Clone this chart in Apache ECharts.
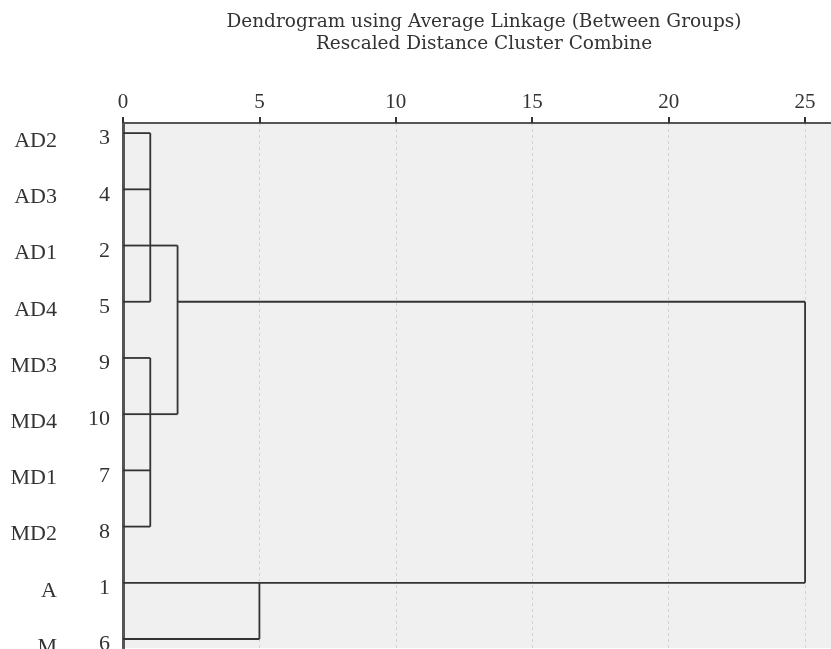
<!DOCTYPE html>
<html>
<head>
<meta charset="utf-8">
<script src="https://cdn.jsdelivr.net/npm/echarts@6/dist/echarts.min.js"></script>
<style>html,body{margin:0;padding:0;background:#fff}#c{width:831px;height:649px}</style>
</head>
<body>
<div id="c"></div>
<script>
// Leaf order (top to bottom)
var leafNames = ['AD2','AD3','AD1','AD4','MD3','MD4','MD1','MD2','A','M'];
var caseNums  = ['3','4','2','5','9','10','7','8','1','6'];
var xTicks = [0,5,10,15,20,25];
// each leaf: horizontal from 0 to this distance
var leafJoin = [1,1,1,1,1,1,1,1,5,5];
// vertical merge bars: distance, first row, last row
var mergeDist = [1,1,2,5,25];
var mergeTop  = [0,4,2,8,3];
var mergeBot  = [3,7,5,9,8];
// connectors from a merged node to its parent merge
var linkRow  = [2,5,3,8];
var linkFrom = [1,1,2,5];
var linkTo   = [2,2,25,25];

var segs = [];
leafJoin.forEach(function(d,i){ segs.push([[0,i],[d,i]]); });
mergeDist.forEach(function(d,i){ segs.push([[d,mergeTop[i]],[d,mergeBot[i]]]); });
linkRow.forEach(function(r,i){ segs.push([[linkFrom[i],r],[linkTo[i],r]]); });

var serif = '"Liberation Serif", serif';
var titleFont = '"DejaVu Serif", serif';
var rowIdx = leafNames.map(function(_,i){return i;});

var chart = echarts.init(document.getElementById('c'));
chart.setOption({
  animation:false,
  backgroundColor:'#fff',
  title:{
    text:'Dendrogram using Average Linkage (Between Groups)\nRescaled Distance Cluster Combine',
    left:484, top:11, padding:0, textAlign:'center',
    textStyle:{fontFamily:titleFont, fontSize:18.5, fontWeight:'normal', color:'#333', lineHeight:22}
  },
  grid:{left:123, top:123, right:0, bottom:1, outerBoundsMode:'none', containLabel:false,
        backgroundColor:'#f0f0f0', show:true, borderWidth:0},
  xAxis:{
    type:'value', position:'top', min:0, max:25.95,
    axisLine:{show:true, onZero:false, lineStyle:{color:'#555', width:2}},
    axisTick:{show:true, length:6, lineStyle:{color:'#333', width:2}, customValues:xTicks},
    axisLabel:{customValues:xTicks, fontFamily:serif, fontSize:21, color:'#333', margin:10},
    splitLine:{show:true, lineStyle:{color:'#d4d4d4', type:[3,3], width:1}}
  },
  yAxis:[{
    type:'value', inverse:true, min:-0.18, max:9.16, position:'left',
    axisLine:{show:true, onZero:false, lineStyle:{color:'#555', width:3}},
    axisTick:{show:false},
    splitLine:{show:false},
    axisLabel:{customValues:rowIdx, formatter:function(v){return caseNums[Math.round(v)];},
      fontFamily:serif, fontSize:22, color:'#333', margin:13, verticalAlign:'top', lineHeight:11}
  },{
    type:'value', inverse:true, min:-0.18, max:9.16, position:'left',
    axisLine:{show:false}, axisTick:{show:false}, splitLine:{show:false},
    axisLabel:{customValues:rowIdx, formatter:function(v){return leafNames[Math.round(v)];},
      fontFamily:serif, fontSize:22, color:'#333', margin:66, verticalAlign:'top', lineHeight:16}
  }],
  series:segs.map(function(s){
    return {type:'line', data:s, symbol:'none', silent:true, clip:false,
      lineStyle:{color:'#333', width:1.8}};
  })
});
</script>
</body>
</html>
